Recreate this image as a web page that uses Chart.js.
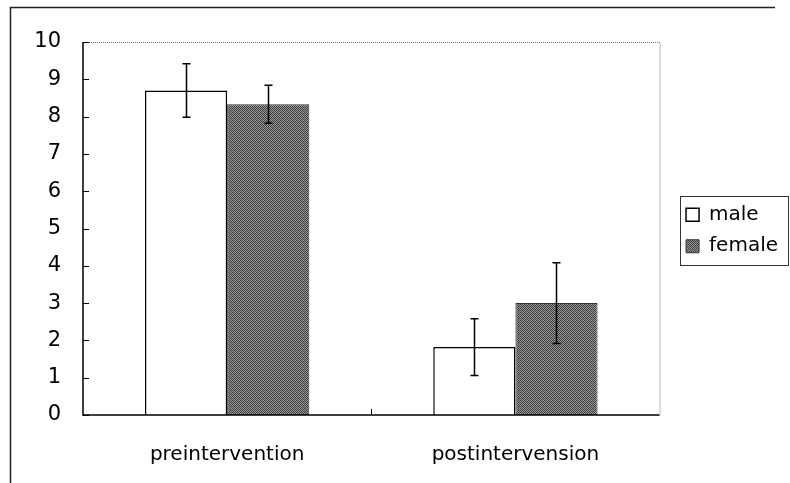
<!DOCTYPE html>
<html>
<head>
<meta charset="utf-8">
<script src="https://cdn.jsdelivr.net/npm/chart.js@4"></script>
<style>
	html, body { margin: 0; padding: 0; background: #fff; }
	canvas { display: block; }
</style>
</head>
<body>
<canvas id="chart" width="790" height="483"></canvas>
<script>
const categories = ['preintervention', 'postintervension'];
const seriesNames = ['male', 'female'];
const maleValues = [8.7, 1.82];
const femaleValues = [8.33, 3.0];
const maleErrors = [0.72, 0.76];
const femaleErrors = [0.51, 1.08];
const yTicks = [0, 1, 2, 3, 4, 5, 6, 7, 8, 9, 10];

const FONT = 'DejaVu Sans';

// dithered grey like the scanned bars
function makeDither() {
	const c = document.createElement('canvas');
	c.width = 4;
	c.height = 4;
	const g = c.getContext('2d');
	const cells = [
		'#343434', '#969696', '#444444', '#a0a0a0',
		'#9c9c9c', '#404040', '#8e8e8e', '#383838',
		'#4a4a4a', '#9a9a9a', '#323232', '#929292',
		'#909090', '#3c3c3c', '#9e9e9e', '#464646'
	];
	cells.forEach((col, i) => {
		g.fillStyle = col;
		g.fillRect(i % 4, Math.floor(i / 4), 1, 1);
	});
	return g.createPattern(c, 'repeat');
}

const frame = {
	id: 'frame',
	afterLayout(chart) {
		// nudge the legend into the reference spot
		const lg = chart.legend;
		lg.left += 15;
		lg.right += 15;
		lg.top -= 32;
		lg.bottom -= 32;
	},
	beforeDraw(chart) {
		const ctx = chart.ctx;
		ctx.save();
		ctx.fillStyle = '#fff';
		ctx.fillRect(0, 0, chart.width, chart.height);
		ctx.strokeStyle = '#222';
		ctx.lineWidth = 1.5;
		ctx.beginPath();
		ctx.moveTo(10.5, chart.height);
		ctx.lineTo(10.5, 7.5);
		ctx.lineTo(775, 7.5);
		ctx.stroke();
		ctx.restore();
	},
	afterDraw(chart) {
		const ctx = chart.ctx;
		const a = chart.chartArea;
		const y = chart.scales.y;
		const x = chart.scales.x;
		ctx.save();
		// dotted top and right
		ctx.strokeStyle = '#777';
		ctx.lineWidth = 1;
		ctx.setLineDash([1, 1]);
		ctx.beginPath();
		ctx.moveTo(a.left, a.top + 0.5);
		ctx.lineTo(a.right + 0.5, a.top + 0.5);
		ctx.lineTo(a.right + 0.5, a.bottom);
		ctx.stroke();
		ctx.setLineDash([]);
		// solid left and bottom axis
		ctx.strokeStyle = '#000';
		ctx.lineWidth = 1.5;
		ctx.beginPath();
		ctx.moveTo(a.left, a.top);
		ctx.lineTo(a.left, a.bottom);
		ctx.lineTo(a.right, a.bottom);
		ctx.stroke();
		// inside ticks
		ctx.lineWidth = 1;
		ctx.beginPath();
		yTicks.forEach(v => {
			const py = Math.round(y.getPixelForValue(v)) + 0.5;
			ctx.moveTo(a.left, py);
			ctx.lineTo(a.left + 6, py);
		});
		const mid = Math.round((x.getPixelForValue(0) + x.getPixelForValue(1)) / 2) + 0.5;
		ctx.moveTo(mid, a.bottom);
		ctx.lineTo(mid, a.bottom - 6);
		ctx.stroke();
		// legend border
		const lg = chart.legend;
		const cy = (lg.top + lg.bottom) / 2;
		ctx.strokeStyle = '#333';
		ctx.strokeRect(680.5, Math.round(cy - 35) + 0.5, 108, 69);
		ctx.restore();
	}
};

const errorBars = {
	id: 'errorBars',
	afterDatasetsDraw(chart) {
		const ctx = chart.ctx;
		const y = chart.scales.y;
		const errs = [maleErrors, femaleErrors];
		ctx.save();
		ctx.strokeStyle = '#000';
		ctx.lineWidth = 1.5;
		chart.data.datasets.forEach((ds, i) => {
			const meta = chart.getDatasetMeta(i);
			meta.data.forEach((bar, j) => {
				const v = ds.data[j];
				const e = errs[i][j];
				const top = y.getPixelForValue(v + e);
				const bot = y.getPixelForValue(v - e);
				const cx = Math.round(bar.x) + 0.5;
				ctx.beginPath();
				ctx.moveTo(cx, top);
				ctx.lineTo(cx, bot);
				ctx.moveTo(cx - 4, top);
				ctx.lineTo(cx + 4, top);
				ctx.moveTo(cx - 4, bot);
				ctx.lineTo(cx + 4, bot);
				ctx.stroke();
			});
		});
		ctx.restore();
	}
};

document.addEventListener('DOMContentLoaded', () => {
	const ctx = document.getElementById('chart');
	new Chart(ctx, {
		type: 'bar',
		data: {
			labels: categories,
			datasets: [
				{
					label: seriesNames[0],
					data: maleValues,
					backgroundColor: '#fff',
					borderColor: '#000',
					borderWidth: 1.5
				},
				{
					label: seriesNames[1],
					data: femaleValues,
					backgroundColor: makeDither(),
					borderColor: '#333',
					borderWidth: 1
				}
			]
		},
		plugins: [frame, errorBars],
		options: {
			responsive: false,
			animation: false,
			devicePixelRatio: 1,
			layout: {
				padding: { left: 10, top: 42, right: 17, bottom: 0 }
			},
			datasets: {
				bar: {
					categoryPercentage: 0.57,
					barPercentage: 1.0
				}
			},
			plugins: {
				tooltip: { enabled: false },
				legend: {
					position: 'right',
					labels: {
						font: { family: FONT, size: 20 },
						color: '#000',
						boxWidth: 13,
						boxHeight: 13,
						padding: 11.5
					}
				}
			},
			scales: {
				x: {
					grid: { display: false, drawTicks: false },
					border: { display: false },
					ticks: {
						font: { family: FONT, size: 20 },
						color: '#000',
						padding: 28,
						maxRotation: 0
					},
					afterFit: (s) => { s.height = 68; }
				},
				y: {
					min: 0,
					max: 10,
					grid: { display: false, drawTicks: false },
					border: { display: false },
					ticks: {
						stepSize: 1,
						font: { family: FONT, size: 21 },
						color: '#000',
						padding: 22
					},
					afterFit: (s) => { s.width = 73; }
				}
			}
		}
	});
});
</script>
</body>
</html>
